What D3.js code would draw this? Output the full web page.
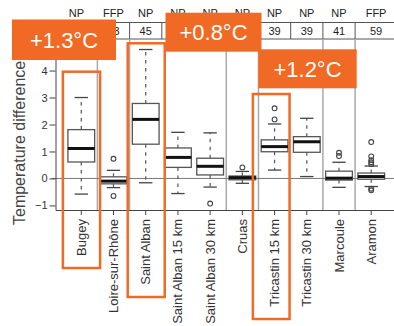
<!DOCTYPE html>
<html>
<head>
<meta charset="utf-8">
<script src="https://cdn.jsdelivr.net/npm/d3@7"></script>
<style>
  body { margin: 0; background: #fff; }
  svg { display: block; }
  text { font-family: "Liberation Sans", Arial, Helvetica, sans-serif; }
</style>
</head>
<body>
<svg id="chart" width="394" height="326"></svg>
<script>
// Stations along the Rhône, upstream to downstream
const sites = ["Bugey", "Loire-sur-Rhône", "Saint Alban", "Saint Alban 15 km", "Saint Alban 30 km",
               "Cruas", "Tricastin 15 km", "Tricastin 30 km", "Marcoule", "Aramon"];
const plantType = ["NP", "FFP", "NP", "NP", "NP", "NP", "NP", "NP", "NP", "FFP"];
// number of years per station (null where the count is not given)
const sampleCount = [null, 43, 45, null, null, null, 39, 39, 41, 59];
// stations sharing a reach are not separated by a rule
const reach = [0, 1, 2, 2, 2, 3, 4, 4, 5, 6];

// Box-plot statistics of the temperature difference (°C)
const lowerWhisker = [-0.58, -0.34, -0.16, -0.56, -0.32, -0.18, 0.31, 0.07, -0.33, -0.30];
const q1           = [ 0.61, -0.20,  1.27,  0.41,  0.13, -0.05, 0.99, 0.97, -0.06, -0.03];
const median       = [ 1.11, -0.10,  2.19,  0.78,  0.45,  0.03, 1.18, 1.36,  0.01,  0.07];
const q3           = [ 1.81,  0.06,  2.78,  1.13,  0.75,  0.09, 1.43, 1.55,  0.27,  0.20];
const upperWhisker = [ 3.00,  0.30,  4.78,  1.71,  1.69,  0.26, 2.02, 2.23,  0.60,  0.46];
const outliers = [[], [0.73, -0.65], [], [], [-0.93], [0.41], [2.19, 2.60], [],
                  [0.83, 0.95], [1.35, 0.82, 0.68, 0.60, 0.53, -0.38, -0.44]];

const yTicks = [-1, 0, 1, 2, 3, 4];
const yTitle = "Temperature difference";

// Warming attributed to each highlighted plant
const highlightSites = ["Bugey", "Saint Alban", "Tricastin 15 km"];
const highlightLabels = ["+1.3°C", "+0.8°C", "+1.2°C"];

// ---------------------------------------------------------------
const svg = d3.select("#chart");
const orange = "#f06a25";
const plot = { left: 55.5, right: 397, top: 39, bottom: 210 };
const headerTop = 22.5;

const x = d3.scaleBand().domain(sites).range([plot.left, plot.right])
  .paddingInner(0).paddingOuter(0.3);
const y = d3.scaleLinear().domain([-1.17, 5.17]).range([plot.bottom, plot.top]);
const cx = s => x(s) + x.bandwidth() / 2;
const boxW = x.bandwidth() * 0.83;
const capW = boxW / 2;

// header table cells: from boundary to boundary, outer cells reach the frame
const cellEdges = [plot.left].concat(sites.slice(1).map(s => x(s)), [plot.right]);
const cellMid = i => (cellEdges[i] + cellEdges[i + 1]) / 2;
const header = svg.append("g");
header.selectAll("text.type").data(sites).join("text")
  .attr("class", "type")
  .attr("x", (d, i) => cellMid(i))
  .attr("y", 17).attr("text-anchor", "middle")
  .attr("font-size", 11).attr("fill", "#222")
  .text((d, i) => plantType[i]);
header.selectAll("text.count")
  .data(sites.map((d, i) => i).filter(i => sampleCount[i] != null)).join("text")
  .attr("class", "count")
  .attr("x", i => cellMid(i))
  .attr("y", 35).attr("text-anchor", "middle")
  .attr("font-size", 11).attr("fill", "#222")
  .text(i => sampleCount[i]);
[headerTop, plot.top].forEach(v =>
  header.append("line").attr("x1", plot.left).attr("x2", plot.right)
    .attr("y1", v).attr("y2", v).attr("stroke", "#555").attr("stroke-width", 1));
cellEdges.slice(1, -1).forEach(e =>
  header.append("line").attr("x1", e).attr("x2", e)
    .attr("y1", headerTop).attr("y2", plot.top).attr("stroke", "#555").attr("stroke-width", 1));

// reach separators inside the plot
const seps = svg.append("g");
sites.slice(1).forEach((s, i) => {
  if (reach[i] !== reach[i + 1]) {
    seps.append("line").attr("x1", x(s)).attr("x2", x(s))
      .attr("y1", plot.top).attr("y2", plot.bottom)
      .attr("stroke", "#aaa").attr("stroke-width", 1.5);
  }
});

// zero reference line
svg.append("line").attr("x1", plot.left - 4).attr("x2", plot.right)
  .attr("y1", y(0)).attr("y2", y(0)).attr("stroke", "#777").attr("stroke-width", 1);

// axes
const yAxis = svg.append("g").attr("transform", `translate(${plot.left},0)`)
  .call(d3.axisLeft(y).tickValues(yTicks).tickFormat(d3.format("d"))
    .tickSize(6).tickSizeOuter(0).tickPadding(2));
yAxis.selectAll("path,line").attr("stroke", "#444");
yAxis.selectAll("text").attr("font-size", 11).attr("fill", "#333")
  .style("font-family", "'Liberation Sans', Arial, sans-serif");

const xAxis = svg.append("g").attr("transform", `translate(0,${plot.bottom})`)
  .call(d3.axisBottom(x).tickSize(5).tickSizeOuter(0));
xAxis.selectAll("path,line").attr("stroke", "#444");
xAxis.selectAll("text")
  .attr("transform", "rotate(-90)")
  .attr("x", -9).attr("y", 0).attr("dy", "0.35em")
  .style("text-anchor", "end")
  .attr("font-size", 13).attr("fill", "#333")
  .style("font-family", "'Liberation Sans', Arial, sans-serif");

svg.append("text")
  .attr("transform", "translate(24.5,225) rotate(-90)")
  .attr("text-anchor", "start").attr("font-size", 16).attr("fill", "#444")
  .text(yTitle);

// box plots
const boxes = svg.append("g");
sites.forEach((s, i) => {
  const c = cx(s);
  const g = boxes.append("g");
  [[q3[i], upperWhisker[i]], [q1[i], lowerWhisker[i]]].forEach(([a, b]) => {
    g.append("line").attr("x1", c).attr("x2", c).attr("y1", y(a)).attr("y2", y(b))
      .attr("stroke", "#555").attr("stroke-width", 1.2).attr("stroke-dasharray", "3.5,4.5");
    g.append("line").attr("x1", c - capW / 2).attr("x2", c + capW / 2)
      .attr("y1", y(b)).attr("y2", y(b)).attr("stroke", "#444").attr("stroke-width", 1.3);
  });
  g.append("rect").attr("x", c - boxW / 2).attr("width", boxW)
    .attr("y", y(q3[i])).attr("height", y(q1[i]) - y(q3[i]))
    .attr("fill", "#fff").attr("stroke", "#555").attr("stroke-width", 1.3);
  g.append("line").attr("x1", c - boxW / 2).attr("x2", c + boxW / 2)
    .attr("y1", y(median[i])).attr("y2", y(median[i]))
    .attr("stroke", "#111").attr("stroke-width", 3);
  g.selectAll("circle").data(outliers[i]).join("circle")
    .attr("cx", c).attr("cy", d => y(d)).attr("r", 2.4)
    .attr("fill", "none").attr("stroke", "#444").attr("stroke-width", 1.1);
});

// highlighted stations: outline frames
const frameLayout = [
  { pad: [18.4, 18.8], top: 71.7, bottom: 268 },
  { pad: [18.0, 19.0], top: 43.3, bottom: 297 },
  { pad: [21.7, 15.0], top: 94,   bottom: 319 }
];
highlightSites.forEach((s, k) => {
  const c = cx(s), L = frameLayout[k];
  svg.append("rect")
    .attr("x", c - L.pad[0]).attr("width", L.pad[0] + L.pad[1])
    .attr("y", L.top).attr("height", L.bottom - L.top)
    .attr("fill", "none").attr("stroke", orange).attr("stroke-width", 2.5);
});

// warming call-outs
const calloutLayout = [
  { x: 12,    y: 19.5, w: 104, h: 40.5 },
  { x: 165.5, y: 12.7, w: 96,  h: 39 },
  { x: 258.3, y: 49.3, w: 98.4, h: 39 }
];
highlightLabels.forEach((t, k) => {
  const b = calloutLayout[k];
  svg.append("rect").attr("x", b.x).attr("y", b.y).attr("width", b.w).attr("height", b.h)
    .attr("fill", orange);
  svg.append("text").attr("x", b.x + b.w / 2).attr("y", b.y + b.h / 2 + 7.8)
    .attr("text-anchor", "middle").attr("font-size", 22).attr("fill", "#fff")
    .text(t);
});
</script>
</body>
</html>
